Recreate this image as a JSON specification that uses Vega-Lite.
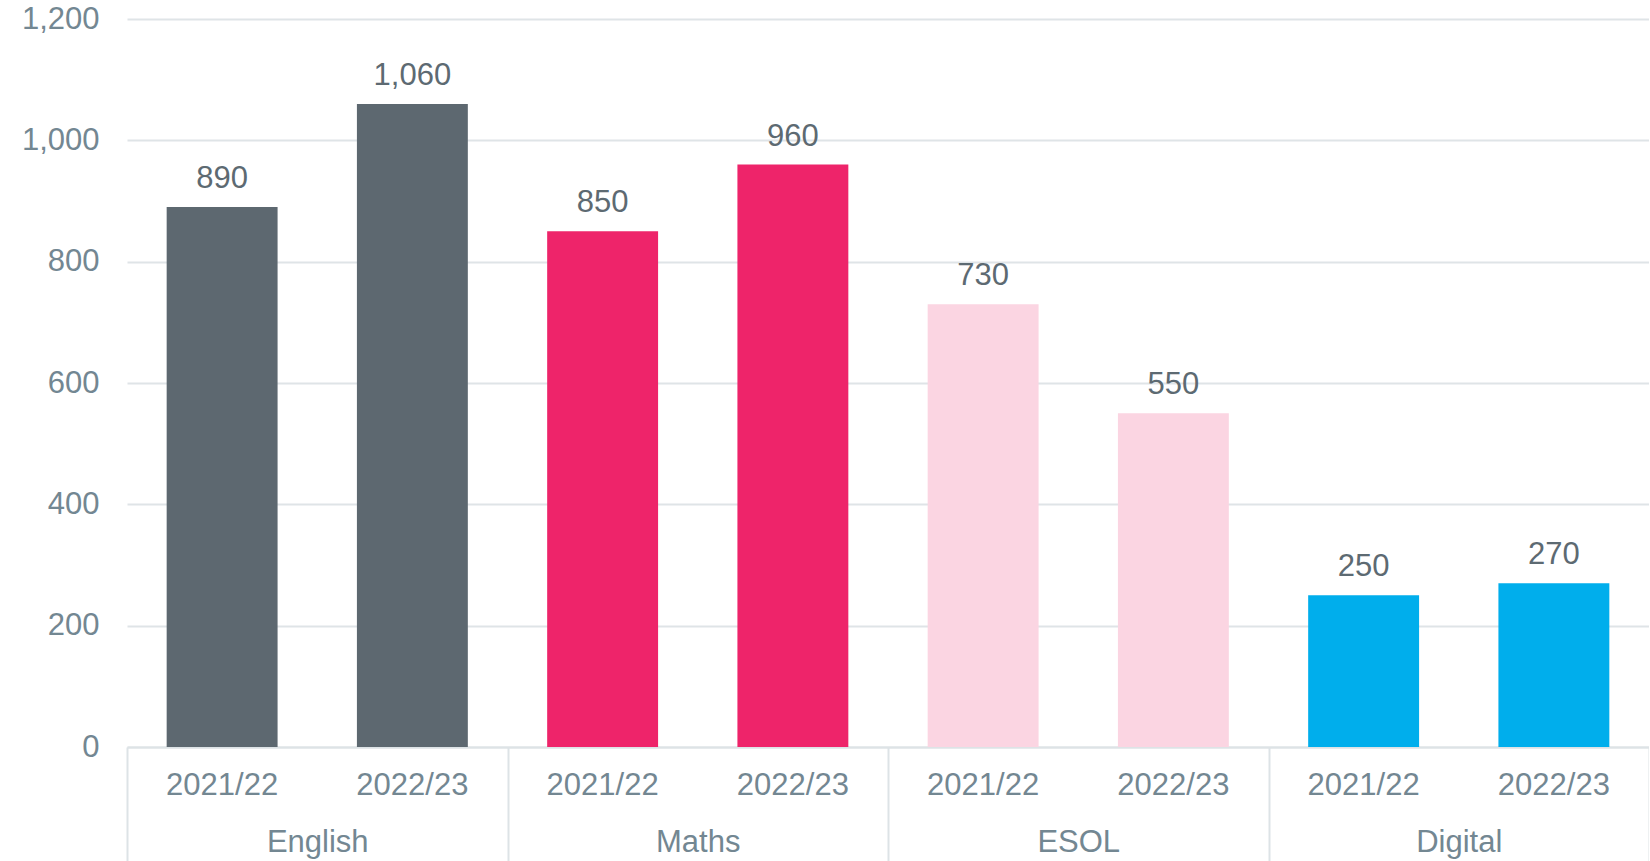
{
  "$schema": "https://vega.github.io/schema/vega-lite/v6.json",
  "autosize": {"type": "none"},
  "padding": {"left": 127, "top": 19, "right": 0, "bottom": 114},
  "width": 1522,
  "height": 728,
  "background": "white",
  "config": {
    "font": "Liberation Sans",
    "view": {"stroke": null},
    "axis": {"labelFont": "Liberation Sans", "labelFontSize": 31, "labelColor": "#738792"}
  },
  "data": {
    "values": [
      {"subject": "English", "year": "2021/22", "key": "English|2021/22", "value": 890},
      {"subject": "English", "year": "2022/23", "key": "English|2022/23", "value": 1060},
      {"subject": "Maths", "year": "2021/22", "key": "Maths|2021/22", "value": 850},
      {"subject": "Maths", "year": "2022/23", "key": "Maths|2022/23", "value": 960},
      {"subject": "ESOL", "year": "2021/22", "key": "ESOL|2021/22", "value": 730},
      {"subject": "ESOL", "year": "2022/23", "key": "ESOL|2022/23", "value": 550},
      {"subject": "Digital", "year": "2021/22", "key": "Digital|2021/22", "value": 250},
      {"subject": "Digital", "year": "2022/23", "key": "Digital|2022/23", "value": 270}
    ]
  },
  "layer": [
    {
      "layer": [
        {
          "mark": {"type": "bar", "width": {"band": 0.583}},
          "encoding": {
            "color": {
              "field": "subject", "type": "nominal", "legend": null,
              "scale": {"domain": ["English", "Maths", "ESOL", "Digital"], "range": ["#5D6870", "#EE246A", "#FBD5E2", "#00AEEC"]}
            }
          }
        },
        {
          "mark": {"type": "text", "baseline": "alphabetic", "dy": -19, "fontSize": 31, "font": "Liberation Sans", "color": "#5D6A72"},
          "encoding": {"text": {"field": "value", "type": "quantitative", "format": ",.0f"}}
        }
      ],
      "encoding": {
        "x": {
          "field": "key", "type": "nominal", "sort": null,
          "scale": {"paddingInner": 0, "paddingOuter": 0},
          "axis": {
            "title": null, "labelAngle": 0, "ticks": false,
            "labelExpr": "split(datum.label, '|')[1]",
            "domainColor": "#DDE3E6", "domainWidth": 2,
            "labelPadding": 23, "labelBaseline": "top"
          }
        },
        "y": {
          "field": "value", "type": "quantitative",
          "scale": {"domain": [0, 1200], "nice": false},
          "axis": {
            "title": null, "values": [0, 200, 400, 600, 800, 1000, 1200], "format": ",.0f",
            "domain": false, "ticks": false, "labelPadding": 28,
            "gridColor": "#DFE4E7", "gridWidth": 2
          }
        }
      }
    },
    {
      "mark": {"type": "bar", "opacity": 0},
      "encoding": {
        "x": {
          "field": "subject", "type": "nominal", "sort": ["English", "Maths", "ESOL", "Digital"],
          "scale": {"paddingInner": 0, "paddingOuter": 0},
          "axis": {
            "orient": "bottom", "title": null, "labelAngle": 0, "domain": false,
            "ticks": true, "tickBand": "extent", "tickSize": 114, "tickColor": "#DDE3E6", "tickWidth": 2,
            "labelPadding": -34, "labelBaseline": "top"
          }
        }
      }
    }
  ],
  "resolve": {"scale": {"x": "independent"}, "axis": {"x": "independent"}}
}
